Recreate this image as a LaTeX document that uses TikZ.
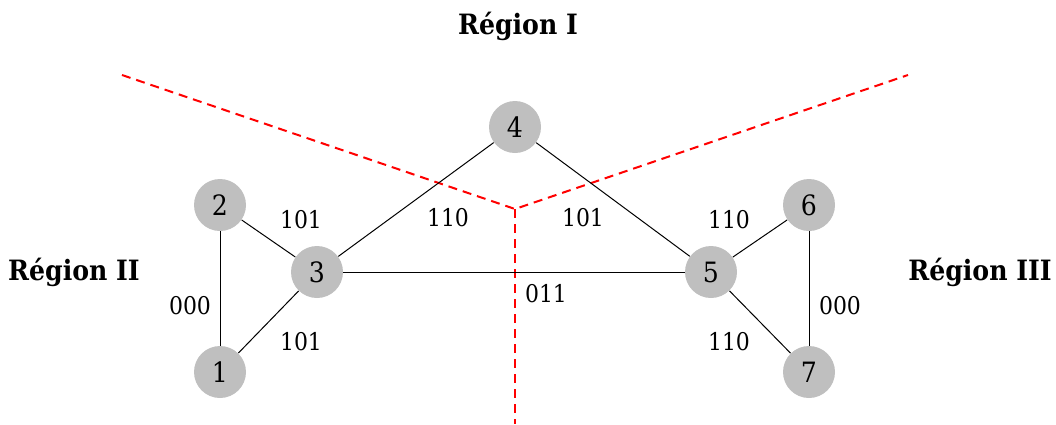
\documentclass[tikz,border=0pt]{standalone}
\usepackage{fontspec}
\setmainfont{DejaVu Serif Condensed}
\usetikzlibrary{automata,positioning}
\tikzset{every state/.style={
    draw=none,
    fill=lightgray,
    inner sep=0pt,
    minimum size=26pt,
    font=\fontsize{14}{16}\selectfont
}}
\tikzset{lbl/.style={font=\fontsize{12.2}{14}\selectfont}}
\tikzset{region/.style={font=\bfseries\fontsize{14}{16}\selectfont}}
\tikzset{border/.style={red, dashed, line width=1pt, dash pattern=on 4.5pt off 3pt}}

\begin{document}
\begin{tikzpicture}[x=0.5pt,y=-0.5pt]
            \useasboundingbox (0,0) rectangle (1056,424);

            % regions
            \coordinate (c) at (515,209);
            \coordinate (ul) at (122,75);
            \coordinate (ur) at (908,75);
            \coordinate (dn) at (515,424);
            \draw[border] (ul) -- (c) -- (ur);
            \draw[border] (c) -- (dn);

            \node[region] (r1) at (518,26) {Région I};
            \node[region] (r2) at (74,272) {Région II};
            \node[region] (r3) at (980,272) {Région III};

            % graph
            \node[state] (n4) at (515,127) {4};
            \node[state] (n2) at (220,205) {2};
            \node[state] (n3) at (317,272) {3};
            \node[state] (n1) at (220,372) {1};
            \node[state] (n5) at (711,272) {5};
            \node[state] (n6) at (809,205) {6};
            \node[state] (n7) at (809,372) {7};

            \path[draw, line width=0.5pt]
                (n1)
                    edge (n2)
                    edge (n3)
                (n2)
                    edge (n3)
                (n3)
                    edge (n4)
                    edge (n5)
                (n4)
                    edge (n5)
                (n5)
                    edge (n6)
                    edge (n7)
                (n6)
                    edge (n7);

            \node[lbl] (l23) at (301,220) {101};
            \node[lbl] (l12) at (190,306) {000};
            \node[lbl] (l13) at (301,342) {101};
            \node[lbl] (l34) at (448,218) {110};
            \node[lbl] (l45) at (583,218) {101};
            \node[lbl] (l35) at (546,294) {011};
            \node[lbl] (l56) at (729,220) {110};
            \node[lbl] (l67) at (840,306) {000};
            \node[lbl] (l57) at (729,342) {110};
        \end{tikzpicture}
\end{document}
